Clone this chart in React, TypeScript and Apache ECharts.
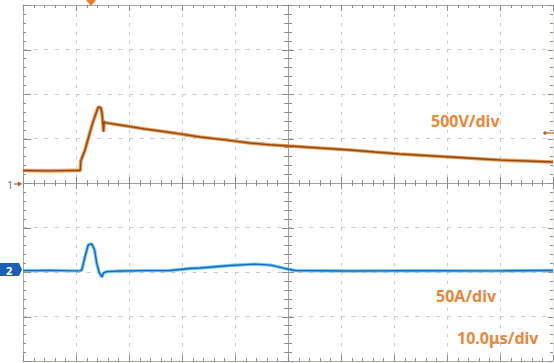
import React, { useEffect, useRef } from "react";
import * as echarts from "echarts";

// Time axis (μs), 10 μs/div, 10 divisions, centred on 0
const timeMin = -50;
const timeMax = 50;
const timeDiv = 10;

// Channel 1: voltage, 500 V/div, ground at centre
const voltsPerDiv = 500;
// Channel 2: current, 50 A/div, ground offset (divisions from centre)
const ampsPerDiv = 50;
const ch2GroundDiv = -1.97;

// minor ticks per division
const ticksPerDiv = 5;

// Channel 1 trace (time μs, volts)
const ch1Time = [-50, -45, -40, -39.2, -39.1, -38.3, -37.4, -36.8, -36.2, -35.8, -35.3, -35.1, -34.8, -34.7, -34.3, -32.0, -29.8, -27.0, -24.2, -20.4, -16.6, -11.9, -7.2, -3.5, 0.2, 6.0, 11.7, 16.4, 21.1, 25.8, 30.6, 35.3, 40.0, 45.0, 50.0];
const ch1Volts = [140, 136, 142, 140, 247, 371, 562, 685, 787, 854, 843, 787, 576, 685, 676, 655, 634, 607, 584, 552, 517, 485, 449, 430, 416, 393, 371, 348, 326, 309, 292, 275, 258, 247, 236];

// Channel 2 trace (time μs, amps)
const ch2Time = [-50, -45, -40, -39.2, -38.9, -38.3, -37.7, -37.0, -36.5, -36.1, -35.6, -35.1, -34.8, -34.2, -31.7, -27.0, -22.3, -18.5, -16.6, -10.9, -6.2, -3.3, -0.6, 1.3, 11.7, 25.0, 40.0, 50.0];
const ch2Amps = [0, 0.3, -0.2, 0, 0.8, 15.7, 28.9, 30.0, 23.3, 8.7, -2.6, -7.1, -2.6, -1.1, -0.3, 0, 0.2, 2.5, 3.0, 5.8, 7.3, 6.2, 2.5, 0.2, -0.3, 0.1, -0.2, 0.2];

const scaleLabels = ["500V/div", "50A/div", "10.0μs/div"];

const frameColor = "#a8ac9f";
const tickColor = "#8c8c8c";
const centreColor = "#a0a0a0";
const gridDash = "#c8c8c8";

export default function App() {
  const ref = useRef<HTMLDivElement>(null);

  useEffect(() => {
    if (!ref.current) return;
    const chart = echarts.init(ref.current, undefined, { renderer: "svg" });

    // both channels share the screen's division grid; CH2 is mapped onto it
    const ch1Data = ch1Time.map((t, i) => [t, ch1Volts[i]]);
    const ch2Data = ch2Time.map((t, i) => [t, (ch2Amps[i] / ampsPerDiv + ch2GroundDiv) * voltsPerDiv]);

    const vMin = -4 * voltsPerDiv;
    const vMax = 4 * voltsPerDiv;

    // graticule tick positions (value, direction 0 = time tick / 1 = volt tick, major flag)
    const tickItems: number[][] = [];
    const nx = Math.round((timeMax - timeMin) / timeDiv) * ticksPerDiv;
    for (let k = 0; k <= nx; k++) {
      tickItems.push([timeMin + (k * timeDiv) / ticksPerDiv, 0, k % ticksPerDiv === 0 ? 1 : 0]);
    }
    const ny = Math.round((vMax - vMin) / voltsPerDiv) * ticksPerDiv;
    for (let k = 0; k <= ny; k++) {
      tickItems.push([vMin + (k * voltsPerDiv) / ticksPerDiv, 1, k % ticksPerDiv === 0 ? 1 : 0]);
    }

    const crisp = (v: number) => Math.round(v) + 0.5;

    const renderTick = (_params: any, api: any) => {
      const v = api.value(0);
      const dir = api.value(1);
      const major = api.value(2) === 1;
      const left = api.coord([timeMin, 0])[0];
      const right = api.coord([timeMax, 0])[0];
      const top = api.coord([0, vMax])[1];
      const bottom = api.coord([0, vMin])[1];
      const [cx, cy] = api.coord([0, 0]);
      const seg = (x1: number, y1: number, x2: number, y2: number) => ({
        type: "line",
        shape: { x1, y1, x2, y2 },
        style: { stroke: tickColor, lineWidth: 1 },
        silent: true,
      });
      const children: any[] = [];
      if (dir === 0) {
        const x = crisp(api.coord([v, 0])[0]);
        const edge = major ? 6 : 3;
        const mid = major ? 6 : 3;
        children.push(seg(x, top, x, top + edge));
        children.push(seg(x, bottom, x, bottom - edge));
        children.push(seg(x, cy - mid, x, cy + mid));
      } else {
        const y = crisp(api.coord([0, v])[1]);
        const edge = major ? 8 : 3;
        const mid = major ? 6 : 4;
        children.push(seg(left, y, left + edge, y));
        children.push(seg(right, y, right - (major ? 5 : 3), y));
        children.push(seg(cx - mid, y, cx + mid, y));
      }
      return { type: "group", children };
    };

    const gridW = 530;
    const gridH = 356;

    const baseX = {
      type: "value" as const,
      min: timeMin,
      max: timeMax,
      interval: timeDiv,
      axisLabel: { show: false },
      axisTick: { show: false },
      minorTick: { show: false },
      splitLine: { show: false },
    };
    const baseY = {
      type: "value" as const,
      min: vMin,
      max: vMax,
      interval: voltsPerDiv,
      axisLabel: { show: false },
      axisTick: { show: false },
      minorTick: { show: false },
      splitLine: { show: false },
    };

    chart.setOption({
      animation: false,
      grid: { left: 23, top: 5, width: gridW, height: gridH },
      xAxis: [
        {
          ...baseX,
          position: "bottom",
          axisLine: { show: true, onZero: false, lineStyle: { color: frameColor, width: 1 } },
          splitLine: { show: true, lineStyle: { color: gridDash, type: [3, 5.9], width: 1 } },
        },
        {
          ...baseX,
          position: "top",
          axisLine: { show: true, onZero: false, lineStyle: { color: frameColor, width: 1 } },
        },
        {
          ...baseX,
          position: "top",
          offset: -gridH / 2,
          axisLine: { show: true, onZero: false, lineStyle: { color: centreColor, width: 1 } },
        },
      ],
      yAxis: [
        {
          ...baseY,
          position: "left",
          axisLine: { show: true, onZero: false, lineStyle: { color: frameColor, width: 1 } },
          splitLine: { show: true, lineStyle: { color: gridDash, type: [4, 6.6], width: 1 } },
        },
        {
          ...baseY,
          position: "left",
          offset: -gridW / 2,
          axisLine: { show: true, onZero: false, lineStyle: { color: centreColor, width: 1 } },
        },
        {
          ...baseY,
          position: "right",
          axisLine: { show: true, onZero: false, lineStyle: { color: "#e4e6e0", width: 1 } },
        },
      ],
      series: [
        {
          type: "custom",
          name: "graticule ticks",
          data: tickItems,
          renderItem: renderTick,
          silent: true,
          clip: false,
          z: 2,
        },
        {
          type: "line",
          name: "CH1 glow",
          data: ch1Data,
          showSymbol: false,
          lineStyle: { color: "#e08a3a", width: 3.6, opacity: 0.85 },
          z: 3,
        },
        {
          type: "line",
          name: "CH1",
          data: ch1Data,
          showSymbol: false,
          lineStyle: { color: "#924715", width: 1.4 },
          z: 4,
        },
        {
          type: "line",
          name: "CH2 glow",
          data: ch2Data,
          showSymbol: false,
          lineStyle: { color: "#5cc3ee", width: 3.4, opacity: 0.85 },
          z: 3,
        },
        {
          type: "line",
          name: "CH2",
          data: ch2Data,
          showSymbol: false,
          lineStyle: { color: "#1c64bf", width: 1.4 },
          z: 4,
        },
      ],
      graphic: [
        {
          type: "text",
          x: 431,
          y: 121,
          style: { text: scaleLabels[0], font: "bold 16px 'Noto Sans', sans-serif", fill: "#e8873a", textVerticalAlign: "middle" },
          z: 10,
        },
        {
          type: "text",
          x: 436,
          y: 296,
          style: { text: scaleLabels[1], font: "bold 16px 'Noto Sans', sans-serif", fill: "#e8873a", textVerticalAlign: "middle" },
          z: 10,
        },
        {
          type: "text",
          x: 457,
          y: 338,
          style: { text: scaleLabels[2], font: "bold 16px 'Noto Sans', sans-serif", fill: "#e8873a", textVerticalAlign: "middle" },
          z: 10,
        },
        // CH1 ground marker
        {
          type: "text",
          x: 7,
          y: 184,
          style: { text: "1", font: "11px 'Noto Sans', sans-serif", fill: "#7a7a7a", textVerticalAlign: "middle" },
          z: 10,
        },
        {
          type: "polyline",
          shape: { points: [[14, 184], [21, 184]] },
          style: { stroke: "#b05a1e", lineWidth: 1.2 },
          z: 10,
        },
        {
          type: "polygon",
          shape: { points: [[18, 181.5], [22, 184], [18, 186.5]] },
          style: { fill: "#b05a1e" },
          z: 10,
        },
        // CH2 ground marker
        {
          type: "polygon",
          shape: { points: [[0, 263], [19, 263], [22, 269.5], [19, 276], [0, 276]] },
          style: { fill: "#1b5fb6" },
          z: 10,
        },
        {
          type: "text",
          x: 6,
          y: 270,
          style: { text: "2", font: "bold 11px 'Noto Sans', sans-serif", fill: "#ffffff", textVerticalAlign: "middle" },
          z: 11,
        },
        // trigger position marker (top)
        {
          type: "polygon",
          shape: { points: [[86, 0], [96, 0], [91, 6]] },
          style: { fill: "#f07a2a" },
          z: 10,
        },
        // trigger level marker (right)
        {
          type: "polyline",
          shape: { points: [[545, 133], [554, 133]] },
          style: { stroke: "#c0682a", lineWidth: 1.2 },
          z: 10,
        },
        {
          type: "circle",
          shape: { cx: 545, cy: 133, r: 1.8 },
          style: { fill: "#c0682a" },
          z: 10,
        },
      ],
    });

    return () => chart.dispose();
  }, []);

  return (
    <div
      ref={ref}
      style={{ position: "fixed", left: 0, top: 0, width: 554, height: 363, background: "#fff" }}
    />
  );
}
